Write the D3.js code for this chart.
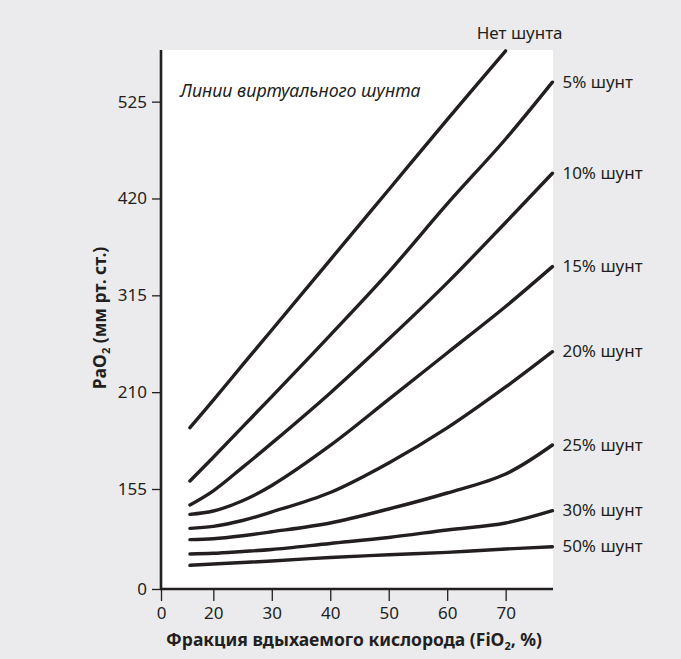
<!DOCTYPE html>
<html>
<head>
<meta charset="utf-8">
<script src="https://cdn.jsdelivr.net/npm/d3@7"></script>
<style>
  html, body { margin: 0; padding: 0; background: #ebebed; }
  svg { display: block; }
  text { font-family: "Noto Sans", "Open Sans", sans-serif; fill: #231f20; }
</style>
</head>
<body>
<svg id="chart" width="681" height="659"></svg>
<script>
// FiO2 sampling points (%)
const fio2 = [16, 20, 25, 30, 40, 50, 60, 70, 78];

// PaO2 along each virtual shunt line (mm Hg in axis units)
const noShunt = [171.5, 201.4, 239.5, 277.4, 353.5, 429.5, 505.5, 580, null];
const shunt5  = [113.7, 139.4, 172.3, 205.2, 271.9, 340.2, 414.1, 484.5, 546.1];
const shunt10 = [88.2, 103.1, 128.4, 154.7, 209.2, 267.6, 328.5, 394.0, 447.4];
const shunt15 = [78.4, 81.9, 92.7, 108.8, 152.2, 202.1, 252.5, 302.9, 346.1];
const shunt20 = [63.7, 65.8, 71.9, 80.9, 101.3, 133.2, 171.2, 215.6, 253.9];
const shunt25 = [51.8, 52.7, 55.9, 60.1, 69.3, 84.0, 100.8, 121.3, 152.7];
const shunt30 = [36.8, 37.5, 39.4, 41.5, 47.8, 54.1, 62.0, 69.3, 82.2];
const shunt50 = [24.9, 26.3, 27.8, 29.4, 33.1, 35.9, 38.5, 42.0, 44.4];

const seriesNames = ["Нет шунта", "5% шунт", "10% шунт", "15% шунт",
                     "20% шунт", "25% шунт", "30% шунт", "50% шунт"];
const seriesValues = [noShunt, shunt5, shunt10, shunt15, shunt20, shunt25, shunt30, shunt50];

// Axis ticks
const xTickValues = [0, 20, 30, 40, 50, 60, 70];
const yTickValues = [0, 105, 210, 315, 420, 525];
const yTickLabels = ["0", "155", "210", "315", "420", "525"];

const svg = d3.select("#chart");
const ink = "#231f20";

// Plot frame
const plotLeft = 161, plotRight = 553, plotTop = 50, plotBottom = 589;

// Broken axes: the segment next to the origin is compressed
const x = d3.scaleLinear().domain([0, 15, 78.1]).range([plotLeft, 184.1, plotRight]);
const y = d3.scaleLinear().domain([0, 105, 581]).range([plotBottom, 489, plotTop]);

svg.append("rect")
  .attr("x", plotLeft).attr("y", plotTop)
  .attr("width", plotRight - plotLeft).attr("height", plotBottom - plotTop)
  .attr("fill", "#ffffff");

// Curves
const line = d3.line()
  .defined(d => d[1] != null)
  .x(d => x(d[0]))
  .y(d => y(d[1]))
  .curve(d3.curveCatmullRom.alpha(0.5));

const series = seriesNames.map((name, i) => ({
  name,
  points: fio2.map((f, j) => [f, seriesValues[i][j]])
}));

svg.append("g")
  .selectAll("path")
  .data(series)
  .join("path")
  .attr("d", d => line(d.points))
  .attr("fill", "none")
  .attr("stroke", ink)
  .attr("stroke-width", 3.4)
  .attr("stroke-linecap", "round");

// Line labels
series.forEach((s, i) => {
  const pts = s.points.filter(p => p[1] != null);
  const last = pts[pts.length - 1];
  const ex = x(last[0]), ey = y(last[1]);
  const t = svg.append("text")
    .attr("font-size", 17)
    .text(s.name);
  if (i === 0) {
    t.attr("x", ex + 14).attr("y", ey - 12).attr("text-anchor", "middle");
  } else {
    t.attr("x", ex + 10).attr("y", ey + 5.5).attr("text-anchor", "start");
  }
});

// Axes
const xAxis = d3.axisBottom(x)
  .tickValues(xTickValues)
  .tickFormat(d3.format("d"))
  .tickSizeInner(12)
  .tickSizeOuter(0)
  .tickPadding(6);

const yAxis = d3.axisLeft(y)
  .tickValues(yTickValues)
  .tickFormat((d, i) => yTickLabels[i])
  .tickSizeInner(9)
  .tickSizeOuter(0)
  .tickPadding(5);

const gx = svg.append("g").attr("transform", `translate(0,${plotBottom})`).call(xAxis);
const gy = svg.append("g").attr("transform", `translate(${plotLeft},0)`).call(yAxis);

[gx, gy].forEach(g => {
  g.select(".domain").attr("stroke", ink).attr("stroke-width", 2.6);
  g.selectAll(".tick line").attr("stroke", ink).attr("stroke-width", 1.3);
  g.selectAll(".tick text")
    .attr("font-family", "'Noto Sans', sans-serif")
    .attr("font-size", 17)
    .attr("fill", ink);
});
gy.select(".domain").attr("d", `M0,${plotBottom + 1}V${plotTop}`);
gx.select(".domain").attr("d", `M${plotLeft - 1},0H${plotRight}`);

// Axis titles
const xTitle = svg.append("text")
  .attr("x", (plotLeft + plotRight) / 2 - 3)
  .attr("y", 646)
  .attr("text-anchor", "middle")
  .attr("font-size", 17.5)
  .attr("font-weight", "bold");
xTitle.append("tspan").text("Фракция вдыхаемого кислорода (FiO");
xTitle.append("tspan").attr("font-size", 11).attr("dy", 4).text("2");
xTitle.append("tspan").attr("dy", -4).text(", %)");

const yTitle = svg.append("text")
  .attr("transform", `translate(106,318) rotate(-90)`)
  .attr("text-anchor", "middle")
  .attr("font-size", 17.5)
  .attr("font-weight", "bold");
yTitle.append("tspan").text("PaO");
yTitle.append("tspan").attr("font-size", 11).attr("dy", 4).text("2");
yTitle.append("tspan").attr("dy", -4).text(" (мм рт. ст.)");

// Caption inside the plot
svg.append("text")
  .attr("x", plotLeft + 19)
  .attr("y", 97)
  .attr("font-size", 17.8)
  .attr("font-style", "italic")
  .text("Линии виртуального шунта");
</script>
</body>
</html>
